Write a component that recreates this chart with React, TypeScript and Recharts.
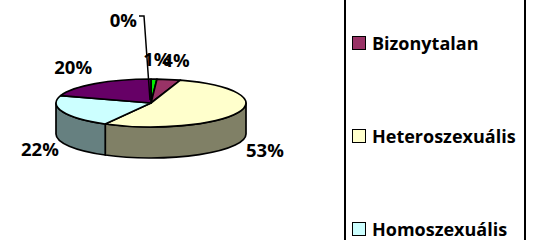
import React from "react";
import { PieChart, Pie, Legend } from "recharts";

// ---- data ----
const categories = ["Nincs adat", "Egyéb", "Bizonytalan", "Heteroszexuális", "Homoszexuális", "Nem válaszolt"];
const values = [0, 1, 4, 53, 22, 20];
const colors = ["#FF9999", "#00EE00", "#993366", "#FFFFCC", "#CCFFFF", "#660066"];
const legendShown = ["Bizonytalan", "Heteroszexuális", "Homoszexuális"];

const data = categories.map((name, i) => ({ name, value: values[i], fill: colors[i] }));

// ---- geometry / style ----
const W = 534;
const H = 240;
const CX = 151;
const CY = 103;
const RX = 95;
const RY = 24;
const DEPTH = 31;
const FONT = "'Open Sans', sans-serif";

const RAD = Math.PI / 180;
const pt = (cx: number, cy: number, a: number, dy = 0) => [
  cx + RX * Math.cos(a * RAD),
  cy - RY * Math.sin(a * RAD) + dy,
];

function darken(hex: string, f = 0.5) {
  const n = parseInt(hex.slice(1), 16);
  const r = Math.round(((n >> 16) & 255) * f);
  const g = Math.round(((n >> 8) & 255) * f);
  const b = Math.round((n & 255) * f);
  return `rgb(${r},${g},${b})`;
}

const Slice3D = (props: any) => {
  const { cx, cy, startAngle, endAngle, fill } = props;
  const a1 = Math.max(startAngle, endAngle);
  const a2 = Math.min(startAngle, endAngle);
  if (a1 - a2 < 0.01) return <g />;
  const parts: React.ReactNode[] = [];
  // front wall
  const hi = Math.min(a1, 0);
  const lo = Math.max(a2, -180);
  if (hi > lo) {
    const [x1, y1] = pt(cx, cy, hi);
    const [x2, y2] = pt(cx, cy, lo);
    const [x3, y3] = pt(cx, cy, lo, DEPTH);
    const [x4, y4] = pt(cx, cy, hi, DEPTH);
    const large = hi - lo > 180 ? 1 : 0;
    const d = `M${x1},${y1} A${RX},${RY} 0 ${large} 1 ${x2},${y2} L${x3},${y3} A${RX},${RY} 0 ${large} 0 ${x4},${y4} Z`;
    parts.push(<path key="w" d={d} fill={darken(fill)} stroke="#000" strokeWidth={1.7} strokeLinejoin="round" />);
  }
  // top face
  const [sx, sy] = pt(cx, cy, a1);
  const [ex, ey] = pt(cx, cy, a2);
  const large = a1 - a2 > 180 ? 1 : 0;
  const d = `M${cx},${cy} L${sx},${sy} A${RX},${RY} 0 ${large} 1 ${ex},${ey} Z`;
  parts.push(<path key="t" d={d} fill={fill} stroke="#000" strokeWidth={1.7} strokeLinejoin="round" />);
  return <g>{parts}</g>;
};

const renderLabel = (props: any) => {
  const { cx, cy, midAngle, percent } = props;
  const txt = `${Math.round(percent * 100)}%`;
  const style = { fontFamily: FONT, fontWeight: 700, fontSize: 18.5, fill: "#000" };
  if (percent === 0) {
    const lx = cx - 14;
    const ly = cy - 76;
    return (
      <g>
        <polyline
          points={`${lx + 2},${cy - 87} ${lx + 7},${cy - 87} ${cx - 1},${cy - 3}`}
          fill="none"
          stroke="#000"
          strokeWidth={1.5}
        />
        <text x={lx} y={ly} textAnchor="end" style={style}>
          {txt}
        </text>
      </g>
    );
  }
  const c = Math.cos(midAngle * RAD);
  const s = Math.sin(midAngle * RAD);
  const w = txt.length * 10.5 + 2;
  const r = 105 + 30 * Math.max(0, s) * Math.abs(c);
  const px = cx + r * c;
  const xLeft = px - (w * (1 - c)) / 2;
  const yc = cy - 43 * s + (s < 0 ? DEPTH : 0);
  return (
    <text x={xLeft} y={yc + 6} textAnchor="start" style={style}>
      {txt}
    </text>
  );
};

const LegendBox = (props: any) => {
  const items = (props.payload || []).filter((p: any) => legendShown.includes(p.value));
  return (
    <div
      style={{
        position: "absolute",
        left: 344,
        top: -20,
        width: 182,
        height: 290,
        borderLeft: "2px solid #000",
        borderRight: "2px solid #000",
        boxSizing: "border-box",
        background: "#fff",
      }}
    >
      {items.map((p: any, i: number) => (
        <div
          key={p.value}
          style={{
            position: "absolute",
            left: 6,
            top: 52 + i * 93,
            display: "flex",
            alignItems: "center",
            height: 22,
          }}
        >
          <span
            style={{
              display: "inline-block",
              width: 12,
              height: 12,
              background: p.payload?.fill || p.color,
              border: "1.5px solid #000",
              marginRight: 6,
            }}
          />
          <span
            style={{
              fontFamily: FONT,
              fontWeight: 700,
              fontSize: 18,
              color: "#000",
              lineHeight: "22px",
            }}
          >
            {p.value}
          </span>
        </div>
      ))}
    </div>
  );
};

export default function App() {
  return (
    <div style={{ position: "absolute", left: 0, top: 0, width: W, height: H, overflow: "hidden", background: "#fff" }}>
      <PieChart width={W} height={H} margin={{ top: 0, right: 0, bottom: 0, left: 0 }}>
        <Pie
          data={data}
          dataKey="value"
          nameKey="name"
          cx={CX}
          cy={CY}
          outerRadius={RX}
          startAngle={90}
          endAngle={-270}
          isAnimationActive={false}
          inactiveShape={Slice3D}
          activeShape={Slice3D}
          shape={Slice3D}
          label={renderLabel}
          labelLine={false}
          stroke="#000"
        />
        <Legend
          content={<LegendBox />}
          wrapperStyle={{ position: "absolute", left: 0, top: 0, width: W, height: H }}
        />
      </PieChart>
    </div>
  );
}
